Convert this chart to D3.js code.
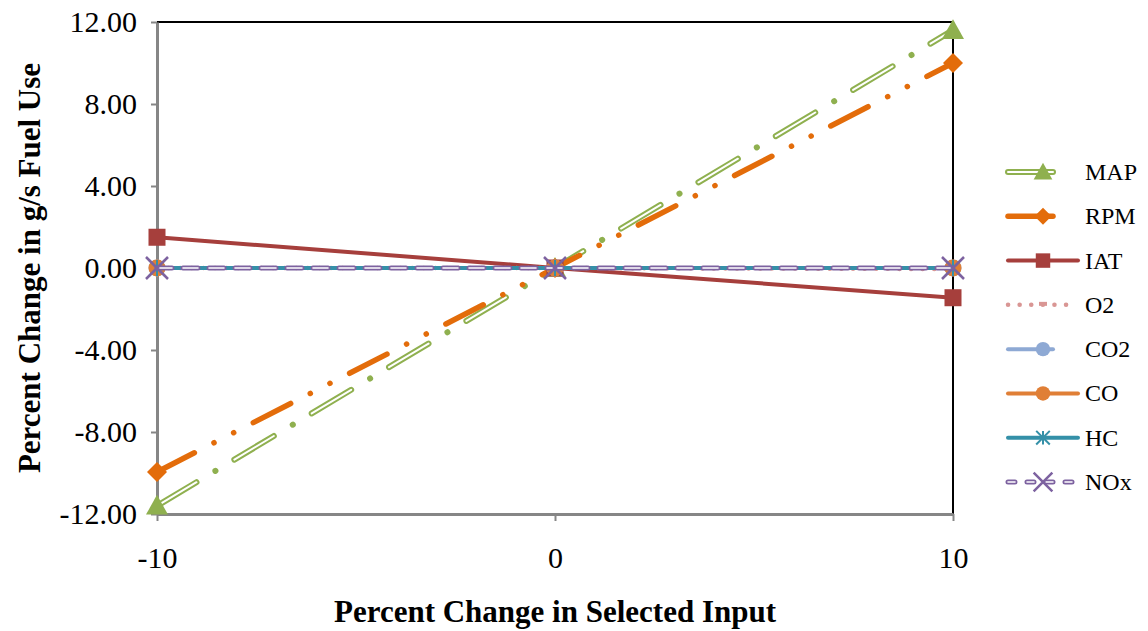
<!DOCTYPE html>
<html>
<head>
<meta charset="utf-8">
<script src="https://cdnjs.cloudflare.com/ajax/libs/d3/7.8.5/d3.min.js"></script>
<style>
  html, body { margin: 0; padding: 0; background: #fff; }
  svg { display: block; font-family: "Liberation Serif", "Times New Roman", serif; }
</style>
</head>
<body>
<svg id="chart" width="1148" height="631"></svg>
<script>
// ---- Data ----
const xValues = [-10, 0, 10];
const xTickLabels = ["-10", "0", "10"];
const yTickValues = [12, 8, 4, 0, -4, -8, -12];
const yTickLabels = ["12.00", "8.00", "4.00", "0.00", "-4.00", "-8.00", "-12.00"];
const seriesNames = ["MAP", "RPM", "IAT", "O2", "CO2", "CO", "HC", "NOx"];
const mapValues = [-11.6, 0, 11.6];
const rpmValues = [-9.95, 0, 10.0];
const iatValues = [1.5, 0, -1.45];
const o2Values = [0, 0, -0.05];
const co2Values = [0, 0, 0];
const coValues = [0, 0, 0];
const hcValues = [0, 0, 0];
const noxValues = [0, 0, 0];
const xAxisTitle = "Percent Change in Selected Input";
const yAxisTitle = "Percent Change in g/s Fuel Use";

const allValues = [mapValues, rpmValues, iatValues, o2Values, co2Values, coValues, hcValues, noxValues];

// ---- Styles ----
const styles = {
  MAP: { color: "#8FB04F", width: 6, dash: "46 22 0.1 22", inner: { color: "#fff", width: 2, dash: "46 44.1" }, marker: "triangle", mSize: 22, legendEnd: 1053 },
  RPM: { color: "#E36C0A", width: 5.5, dash: "42 22 0.1 22 0.1 22", marker: "diamond", mSize: 20, legendEnd: 1053 },
  IAT: { color: "#A63F3C", width: 4, dash: null, marker: "square", mSize: 17, legendEnd: 1078 },
  O2: { color: "#D99694", width: 4.5, dash: "0.1 11.5", marker: "dash", mSize: 10, legendEnd: 1072 },
  CO2: { color: "#8EA9D4", width: 4, dash: null, marker: "circle", mSize: 17, legendEnd: 1053 },
  CO: { color: "#E07F36", width: 4, dash: null, marker: "circle", mSize: 17, legendEnd: 1078 },
  HC: { color: "#3490A8", width: 4, dash: null, marker: "asterisk", mSize: 16, legendEnd: 1078 },
  NOx: { color: "#7D62A0", width: 5, dash: "15 11", inner: { color: "#fff", width: 1.6, dash: "15 11" }, marker: "x", mSize: 22, legendEnd: 1072 }
};

const svg = d3.select("#chart");
const plot = { left: 157, right: 953, top: 22, bottom: 514 };

const x = d3.scaleLinear().domain([-10, 10]).range([plot.left, plot.right]);
const y = d3.scaleLinear().domain([-12, 12]).range([plot.bottom, plot.top]);

// plot border (top / right black)
svg.append("line").attr("x1", plot.left).attr("x2", plot.right).attr("y1", plot.top).attr("y2", plot.top)
  .attr("stroke", "#000").attr("stroke-width", 2);
svg.append("line").attr("x1", plot.right).attr("x2", plot.right).attr("y1", plot.top).attr("y2", plot.bottom)
  .attr("stroke", "#000").attr("stroke-width", 2);

// Y axis
const yAxis = d3.axisLeft(y).tickValues(yTickValues).tickFormat((d, i) => yTickLabels[i]).tickSizeInner(6).tickSizeOuter(0).tickPadding(14);
const gy = svg.append("g").attr("transform", `translate(${plot.left},0)`).call(yAxis);
gy.select(".domain").attr("stroke", "#868686").attr("stroke-width", 3);
gy.selectAll(".tick line").attr("stroke", "#868686").attr("stroke-width", 2);
gy.selectAll(".tick text").attr("fill", "#000").style("font-size", "30px").style("font-family", "Liberation Serif");

// X axis
const xAxis = d3.axisBottom(x).tickValues(xValues).tickFormat((d, i) => xTickLabels[i]).tickSizeInner(7).tickSizeOuter(0).tickPadding(26);
const gx = svg.append("g").attr("transform", `translate(0,${plot.bottom})`).call(xAxis);
gx.select(".domain").attr("stroke", "#868686").attr("stroke-width", 3);
gx.selectAll(".tick line").attr("stroke", "#868686").attr("stroke-width", 2);
gx.selectAll(".tick text").attr("fill", "#000").style("font-size", "30px").style("font-family", "Liberation Serif");

// Titles
svg.append("text").attr("x", (plot.left + plot.right) / 2).attr("y", 622).attr("text-anchor", "middle")
  .style("font-size", "31px").style("font-weight", "bold").text(xAxisTitle);
svg.append("text").attr("transform", `translate(40,${(plot.top + plot.bottom) / 2}) rotate(-90)`).attr("text-anchor", "middle")
  .style("font-size", "31px").style("font-weight", "bold").text(yAxisTitle);

// marker drawing
function drawMarker(g, type, cx, cy, size, color) {
  const s = size / 2;
  if (type === "triangle") {
    g.append("path").attr("d", `M${cx},${cy - s}L${cx + s},${cy + s * 0.8}L${cx - s},${cy + s * 0.8}Z`).attr("fill", color);
  } else if (type === "diamond") {
    g.append("path").attr("d", `M${cx},${cy - s}L${cx + s},${cy}L${cx},${cy + s}L${cx - s},${cy}Z`).attr("fill", color);
  } else if (type === "square") {
    g.append("rect").attr("x", cx - s).attr("y", cy - s).attr("width", size).attr("height", size).attr("fill", color);
  } else if (type === "circle") {
    g.append("circle").attr("cx", cx).attr("cy", cy).attr("r", s).attr("fill", color);
  } else if (type === "dash") {
    g.append("line").attr("x1", cx - s).attr("x2", cx + s).attr("y1", cy - 1).attr("y2", cy - 1)
      .attr("stroke", color).attr("stroke-width", 4);
  } else if (type === "asterisk") {
    const p = d3.path();
    p.moveTo(cx, cy - s); p.lineTo(cx, cy + s);
    p.moveTo(cx - s, cy - s); p.lineTo(cx + s, cy + s);
    p.moveTo(cx - s, cy + s); p.lineTo(cx + s, cy - s);
    g.append("path").attr("d", p.toString()).attr("stroke", color).attr("stroke-width", 2).attr("fill", "none");
  } else if (type === "x") {
    const p = d3.path();
    p.moveTo(cx - s, cy - s); p.lineTo(cx + s, cy + s);
    p.moveTo(cx - s, cy + s); p.lineTo(cx + s, cy - s);
    g.append("path").attr("d", p.toString()).attr("stroke", color).attr("stroke-width", 2.5).attr("fill", "none");
  }
}

const line = d3.line().x(d => x(d[0])).y(d => y(d[1]));
const seriesLayer = svg.append("g");

seriesNames.forEach((name, si) => {
  const st = styles[name];
  const pts = xValues.map((xv, i) => [xv, allValues[si][i]]);
  const g = seriesLayer.append("g");
  g.append("path").attr("d", line(pts)).attr("fill", "none").attr("stroke", st.color)
    .attr("stroke-width", st.width).attr("stroke-linecap", "round").attr("stroke-linejoin", "round")
    .attr("stroke-dasharray", st.dash);
  if (st.inner) {
    g.append("path").attr("d", line(pts)).attr("fill", "none").attr("stroke", st.inner.color)
      .attr("stroke-width", st.inner.width).attr("stroke-linecap", "round")
      .attr("stroke-dasharray", st.inner.dash);
  }
  pts.forEach(p => drawMarker(g, st.marker, x(p[0]), y(p[1]), st.mSize, st.color));
});

// Legend
const legendRowY = d3.scalePoint().domain(seriesNames).range([172, 482]);
const legend = svg.append("g");
seriesNames.forEach(name => {
  const st = styles[name];
  const ly = legendRowY(name);
  const g = legend.append("g");
  const legendDash = (name === "MAP" || name === "RPM") ? null : (name === "NOx" ? "7 12" : st.dash);
  g.append("line").attr("x1", 1008).attr("x2", st.legendEnd).attr("y1", ly).attr("y2", ly)
    .attr("stroke", st.color).attr("stroke-width", st.width).attr("stroke-linecap", "round")
    .attr("stroke-dasharray", legendDash);
  if (st.inner) {
    g.append("line").attr("x1", 1008).attr("x2", st.legendEnd).attr("y1", ly).attr("y2", ly)
      .attr("stroke", st.inner.color).attr("stroke-width", st.inner.width).attr("stroke-linecap", "round")
      .attr("stroke-dasharray", name === "NOx" ? "7 12" : null);
  }
  drawMarker(g, st.marker, 1043, ly, name === "O2" ? 8 : st.mSize * 0.85, st.color);
  g.append("text").attr("x", 1085).attr("y", ly + 8).style("font-size", "24px").text(name);
});
</script>
</body>
</html>
